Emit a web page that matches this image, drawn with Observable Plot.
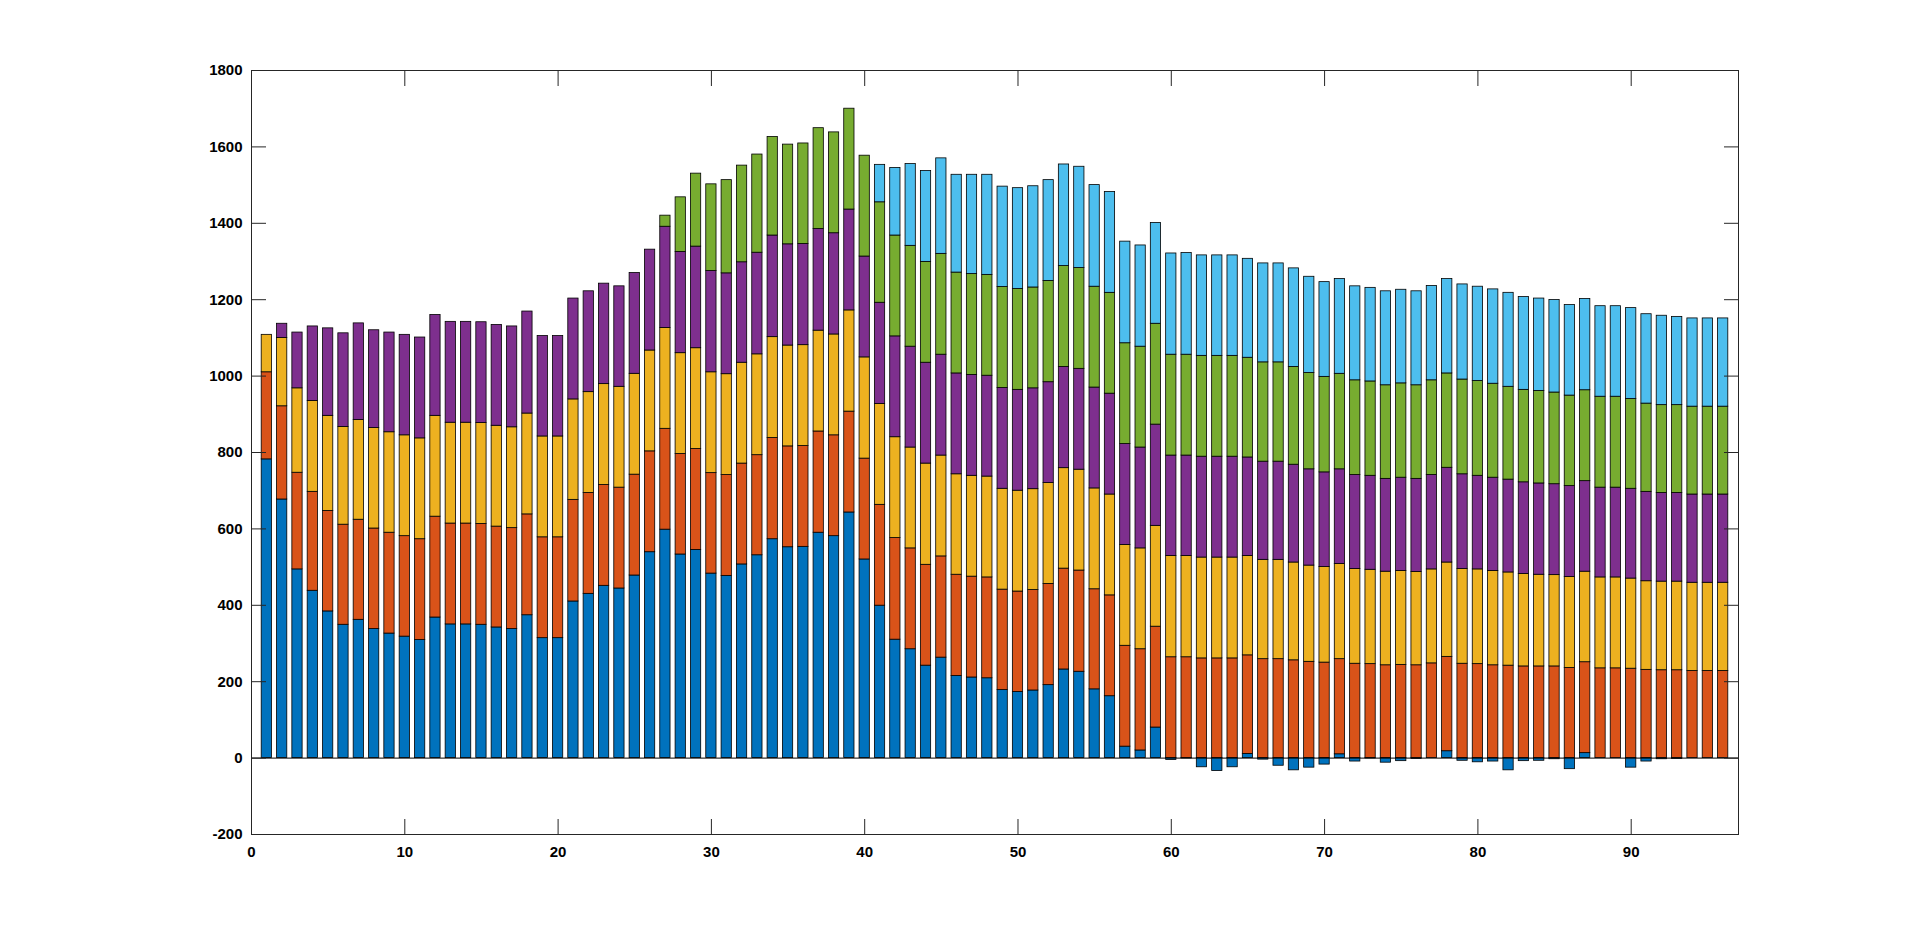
<!DOCTYPE html>
<html>
<head>
<meta charset="utf-8">
<script src="https://cdn.jsdelivr.net/npm/d3@7"></script>
<script src="https://cdn.jsdelivr.net/npm/@observablehq/plot@0.6"></script>
<style>
  html, body { margin: 0; padding: 0; background: #fff; }
  #chart { width: 1920px; height: 937px; }
</style>
</head>
<body>
<div id="chart"></div>
<script>
// ---- data ----
const barIndex = d3.range(1, 97);
const seriesNames = ["S1", "S2", "S3", "S4", "S5", "S6"];
const seriesColors = ["#0072BD", "#D95319", "#EDB120", "#7E2F8E", "#77AC30", "#4DBEEE"];

const s1 = [782,677,494,438,384,349,362,338,326,318,309,368,350,350,349,342,338,374,314,314,
            410,430,451,444,478,539,598,533,545,483,477,507,531,573,552,553,590,581,643,520,
            399,310,285,242,263,215,211,209,178,173,177,191,232,226,180,162,30,20,80,-5,
            -1,-24,-34,-24,11,-4,-20,-32,-25,-17,10,-9,-1,-12,-8,-2,0,18,-7,-11,
            -9,-32,-8,-7,-3,-29,13,0,0,-25,-9,-3,-2,0,0,0];
const s2 = [228,244,253,259,263,262,262,263,264,263,264,264,264,264,264,264,264,264,264,264,
            266,264,264,264,264,264,264,263,264,263,264,264,262,265,264,264,265,264,264,264,
            264,266,264,264,265,265,264,264,263,263,263,265,264,265,262,264,264,265,264,264,
            264,261,261,261,258,259,259,256,252,250,249,247,246,243,244,243,248,247,247,246,
            243,242,240,240,240,236,238,235,235,234,231,230,230,228,228,228];
const s3 = [98,179,221,238,249,256,261,263,263,264,264,264,264,264,264,264,264,264,264,264,
            263,264,264,264,264,264,264,264,264,264,264,264,264,264,264,264,264,264,265,265,
            264,264,264,265,264,263,264,264,264,264,264,264,263,264,264,264,264,264,264,265,
            265,264,264,264,260,260,260,256,252,250,249,248,247,245,246,244,246,247,248,248,
            247,244,242,240,239,238,237,238,238,236,232,232,232,231,231,231];
const s4 = [0,37,146,195,229,245,253,256,261,263,264,264,264,264,264,264,264,267,263,263,
            264,264,263,263,264,264,265,265,266,265,264,263,266,266,265,265,266,265,264,264,
            265,264,264,264,264,264,264,264,264,264,264,264,265,264,264,264,264,264,265,263,
            263,264,264,264,258,257,257,256,252,248,248,246,246,243,244,244,247,248,248,245,
            244,243,240,239,238,238,237,235,235,235,234,232,232,231,231,231];
const s5 = [0,0,0,0,0,0,0,0,0,0,0,0,0,0,0,0,0,0,0,0,
            0,0,0,0,0,0,29,143,191,227,244,253,257,258,261,263,264,264,264,264,
            263,264,264,264,264,264,264,264,264,264,264,265,264,264,264,264,264,264,264,264,
            264,264,264,264,261,260,260,256,252,250,250,248,247,245,247,245,248,247,248,248,
            246,243,242,242,240,237,238,238,238,235,231,230,230,230,230,230];
const s6 = [0,0,0,0,0,0,0,0,0,0,0,0,0,0,0,0,0,0,0,0,
            0,0,0,0,0,0,0,0,0,0,0,0,0,0,0,0,0,0,0,0,
            98,177,214,238,250,256,260,262,263,264,265,264,266,265,266,264,266,265,264,265,
            266,263,263,263,259,259,259,258,252,248,248,246,245,246,245,246,247,247,249,247,
            247,246,243,242,242,237,239,237,237,238,234,234,231,231,231,231];

const xTicks = [0, 10, 20, 30, 40, 50, 60, 70, 80, 90];
const yTicks = [-200, 0, 200, 400, 600, 800, 1000, 1200, 1400, 1600, 1800];

// ---- build table ----
const seriesValues = [s1, s2, s3, s4, s5, s6];
const rows = [];
barIndex.forEach((i, k) => {
  seriesValues.forEach((arr, s) => rows.push({i, series: seriesNames[s], value: arr[k]}));
});

const halfWidth = 0.335;
const axisColor = "#262626";
const plain = d => String(d);

const chart = Plot.plot({
  width: 1920,
  height: 937,
  marginLeft: 251,
  marginRight: 182,
  marginTop: 70,
  marginBottom: 103,
  style: {
    fontFamily: "'Liberation Sans', Arial, Helvetica, sans-serif",
    fontSize: "15px",
    fontWeight: "bold",
    background: "#fff",
    color: axisColor
  },
  x: {domain: [0, 97]},
  y: {domain: [-200, 1800]},
  color: {domain: seriesNames, range: seriesColors},
  marks: [
    Plot.rectY(rows, Plot.stackY({
      x1: d => d.i - halfWidth,
      x2: d => d.i + halfWidth,
      y: "value",
      fill: "series",
      stroke: "#000",
      strokeWidth: 0.8
    })),
    Plot.ruleY([0], {stroke: "#000", strokeWidth: 1}),
    Plot.frame({stroke: axisColor, strokeWidth: 1}),
    Plot.axisY(yTicks, {anchor: "left", tickSize: 0, tickPadding: 9, label: null, fill: "#000", tickFormat: plain}),
    Plot.axisY(yTicks, {anchor: "left", tickSize: 15, dx: 15, tickFormat: () => "", label: null, stroke: axisColor}),
    Plot.axisY(yTicks, {anchor: "right", tickSize: 15, dx: -15, tickFormat: () => "", label: null, stroke: axisColor}),
    Plot.axisX(xTicks, {anchor: "bottom", tickSize: 0, tickPadding: 12, label: null, fill: "#000", tickFormat: plain}),
    Plot.axisX(xTicks, {anchor: "bottom", tickSize: 15, dy: -15, tickFormat: () => "", label: null, stroke: axisColor}),
    Plot.axisX(xTicks, {anchor: "top", tickSize: 15, dy: 15, tickFormat: () => "", label: null, stroke: axisColor})
  ]
});
document.getElementById("chart").appendChild(chart);
</script>
</body>
</html>
